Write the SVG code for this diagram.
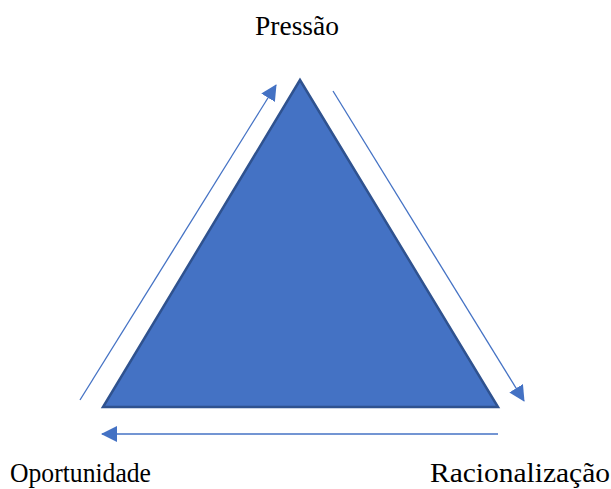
<svg xmlns="http://www.w3.org/2000/svg" width="611" height="489" viewBox="0 0 611 489">
<style>
.lbl{font-family:"Liberation Serif","Times New Roman",serif;font-size:28px;fill:#000}
.bot{font-size:27px}
.arr{stroke:#4472C4;stroke-width:1.3;fill:none}
</style>
<defs>
<marker id="ah" markerWidth="16" markerHeight="16" viewBox="0 0 16 16" refX="15" refY="8" orient="auto" markerUnits="userSpaceOnUse">
<path d="M0,0 L16,8 L0,16 Z" fill="#4472C4"/>
</marker>
</defs>
<rect width="611" height="489" fill="#fff"/>
<g id="triangle">
<polygon points="300,80 103,407 498,407" fill="#4472C4" stroke="#2F528F" stroke-width="2.5" stroke-linejoin="miter"/>
</g>
<g id="connectors">
<line class="arr" x1="80" y1="400" x2="276" y2="85" marker-end="url(#ah)"/>
<line class="arr" x1="333" y1="91" x2="524" y2="401" marker-end="url(#ah)"/>
<line class="arr" x1="498" y1="434" x2="102" y2="434" stroke="#7A9CD6" stroke-width="2.5" marker-end="url(#ah)"/>
</g>
<g id="pressao"><text class="lbl" x="255" y="35" textLength="84" lengthAdjust="spacingAndGlyphs">Pressão</text></g>
<g id="oportunidade"><text class="lbl bot" x="10" y="482" textLength="141" lengthAdjust="spacingAndGlyphs">Oportunidade</text></g>
<g id="racionalizacao"><text class="lbl bot" x="430" y="482" textLength="180" lengthAdjust="spacingAndGlyphs">Racionalização</text></g>
</svg>
